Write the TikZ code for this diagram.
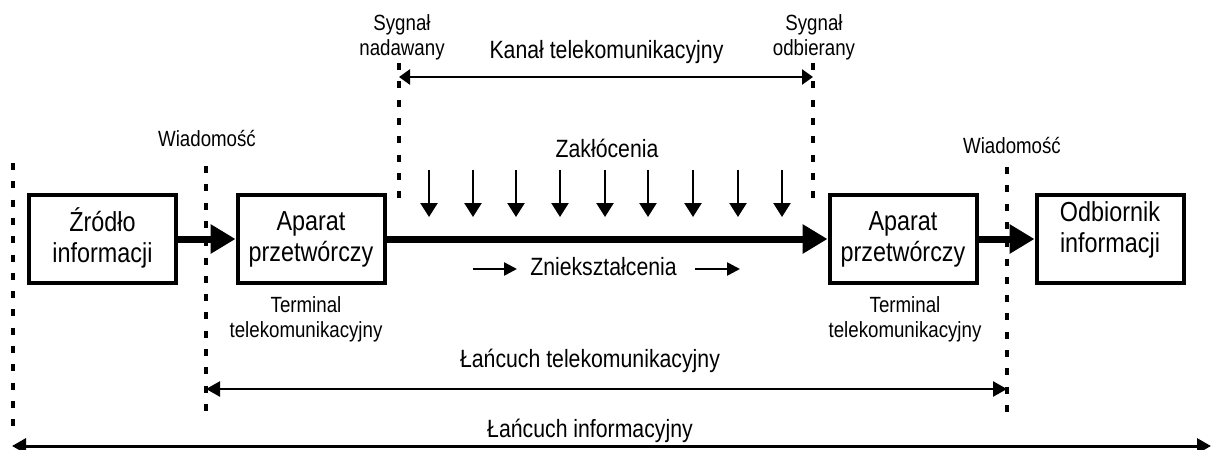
\documentclass[tikz,border=0pt]{standalone}
\usepackage{fontspec}
\setmainfont{Liberation Sans}[FakeStretch=0.85]
\usetikzlibrary{arrows.meta}
\newcommand\bxtop{\rule{0pt}{21pt}}
\newcommand\bxbot{\rule[-7pt]{0pt}{7pt}}
\newcommand\smtop{\rule{0pt}{17pt}}
\begin{document}
\begin{tikzpicture}[x=1pt,y=-1pt,
  box/.style={draw,line width=4pt,minimum width=147pt,minimum height=88pt,inner sep=0pt,align=center,
     font=\fontsize{27.5pt}{31pt}\selectfont},
  midtxt/.style={inner sep=0pt,anchor=base,font=\fontsize{25pt}{30pt}\selectfont},
  smtxt/.style={inner sep=0pt,align=center,font=\fontsize{22pt}{25.5pt}\selectfont},
  dotline/.style={line width=4pt,dash pattern=on 7pt off 11.3pt},
  thickarr/.style={line width=7pt,-{Triangle[length=25pt,width=28pt]}},
  noisearr/.style={line width=2.5pt,-{Triangle[length=14pt,width=17pt]}},
  smallarr/.style={line width=2.5pt,-{Triangle[length=13pt,width=13pt]}},
  dimarr/.style={line width=2.5pt,{Triangle[length=11pt,width=15pt]}-{Triangle[length=11pt,width=15pt]}},
  chainarr/.style={line width=2.5pt,{Triangle[length=14pt,width=15pt]}-{Triangle[length=14pt,width=15pt]}},
  ]
\useasboundingbox (0,0) rectangle (1211,450);

% boxes
\node[box] (b1) at (102.5,239) {\bxtop Źródło\\informacji\bxbot};
\node[box] (b2) at (311,239) {\bxtop Aparat\\przetwórczy\bxbot};
\node[box] (b3) at (903,239) {\bxtop Aparat\\przetwórczy\bxbot};
\node[box] (b4) at (1110,239) {\bxtop Odbiornik\\informacji\rule[-25pt]{0pt}{25pt}};

% dotted lines
\coordinate (d1t) at (13,163);  \coordinate (d1b) at (13,432);
\coordinate (d2t) at (206,166); \coordinate (d2b) at (206,414);
\coordinate (d3t) at (1007,167); \coordinate (d3b) at (1007,414);
\coordinate (c1t) at (399,63);  \coordinate (c1b) at (399,207);
\coordinate (c2t) at (813,63);  \coordinate (c2b) at (813,207);
\draw[dotline] (d1t) -- (d1b);
\draw[dotline] (d2t) -- (d2b);
\draw[dotline] (d3t) -- (d3b);
\draw[dotline] (c1t) -- (c1b);
\draw[dotline] (c2t) -- (c2b);

% signal arrows
\draw[thickarr] (b1.east) -- (b2.west);
\draw[thickarr] (b2.east) -- (b3.west);
\draw[thickarr] (b3.east) -- (b4.west);

% channel
\coordinate (chl) at (399,77); \coordinate (chr) at (813,77);
\draw[dimarr] (chl) -- (chr);
\node[smtxt,anchor=north] (sn) at (402,13) {\smtop Sygnał\\nadawany};
\node[smtxt,anchor=north] (so) at (814,13) {\smtop Sygnał\\odbierany};
\node[midtxt] (kt) at (606.5,58) {Kanał telekomunikacyjny};

% noise
\node[midtxt] (zk) at (607,157) {Zakłócenia};
\foreach \i/\x in {1/429,2/473,3/516,4/560,5/605,6/648,7/693,8/738,9/782}{
  \coordinate (za\i) at (\x,170);
  \coordinate (zb\i) at (\x,217);
  \draw[noisearr] (za\i) -- (zb\i);
}

% distortion
\node[midtxt] (zn) at (603.5,275) {Zniekształcenia};
\coordinate (s1a) at (473,269); \coordinate (s1b) at (517,269);
\coordinate (s2a) at (695,269); \coordinate (s2b) at (740,269);
\draw[smallarr] (s1a) -- (s1b);
\draw[smallarr] (s2a) -- (s2b);

% message labels
\node[smtxt,anchor=base] (w1) at (207,146) {Wiadomość};
\node[smtxt,anchor=base] (w2) at (1012,153) {Wiadomość};

% terminals
\node[smtxt,anchor=north] (t1) at (306,295) {\smtop Terminal\\telekomunikacyjny};
\node[smtxt,anchor=north] (t2) at (905,295) {\smtop Terminal\\telekomunikacyjny};

% chains
\node[midtxt] (lt) at (590,367) {Łańcuch telekomunikacyjny};
\coordinate (ltl) at (206,389); \coordinate (ltr) at (1007,389);
\draw[chainarr] (ltl) -- (ltr);
\node[midtxt] (li) at (590,437) {Łańcuch informacyjny};
\coordinate (lil) at (12,446); \coordinate (lir) at (1211,446);
\draw[chainarr,line width=3pt] (lil) -- (lir);
\end{tikzpicture}
\end{document}
